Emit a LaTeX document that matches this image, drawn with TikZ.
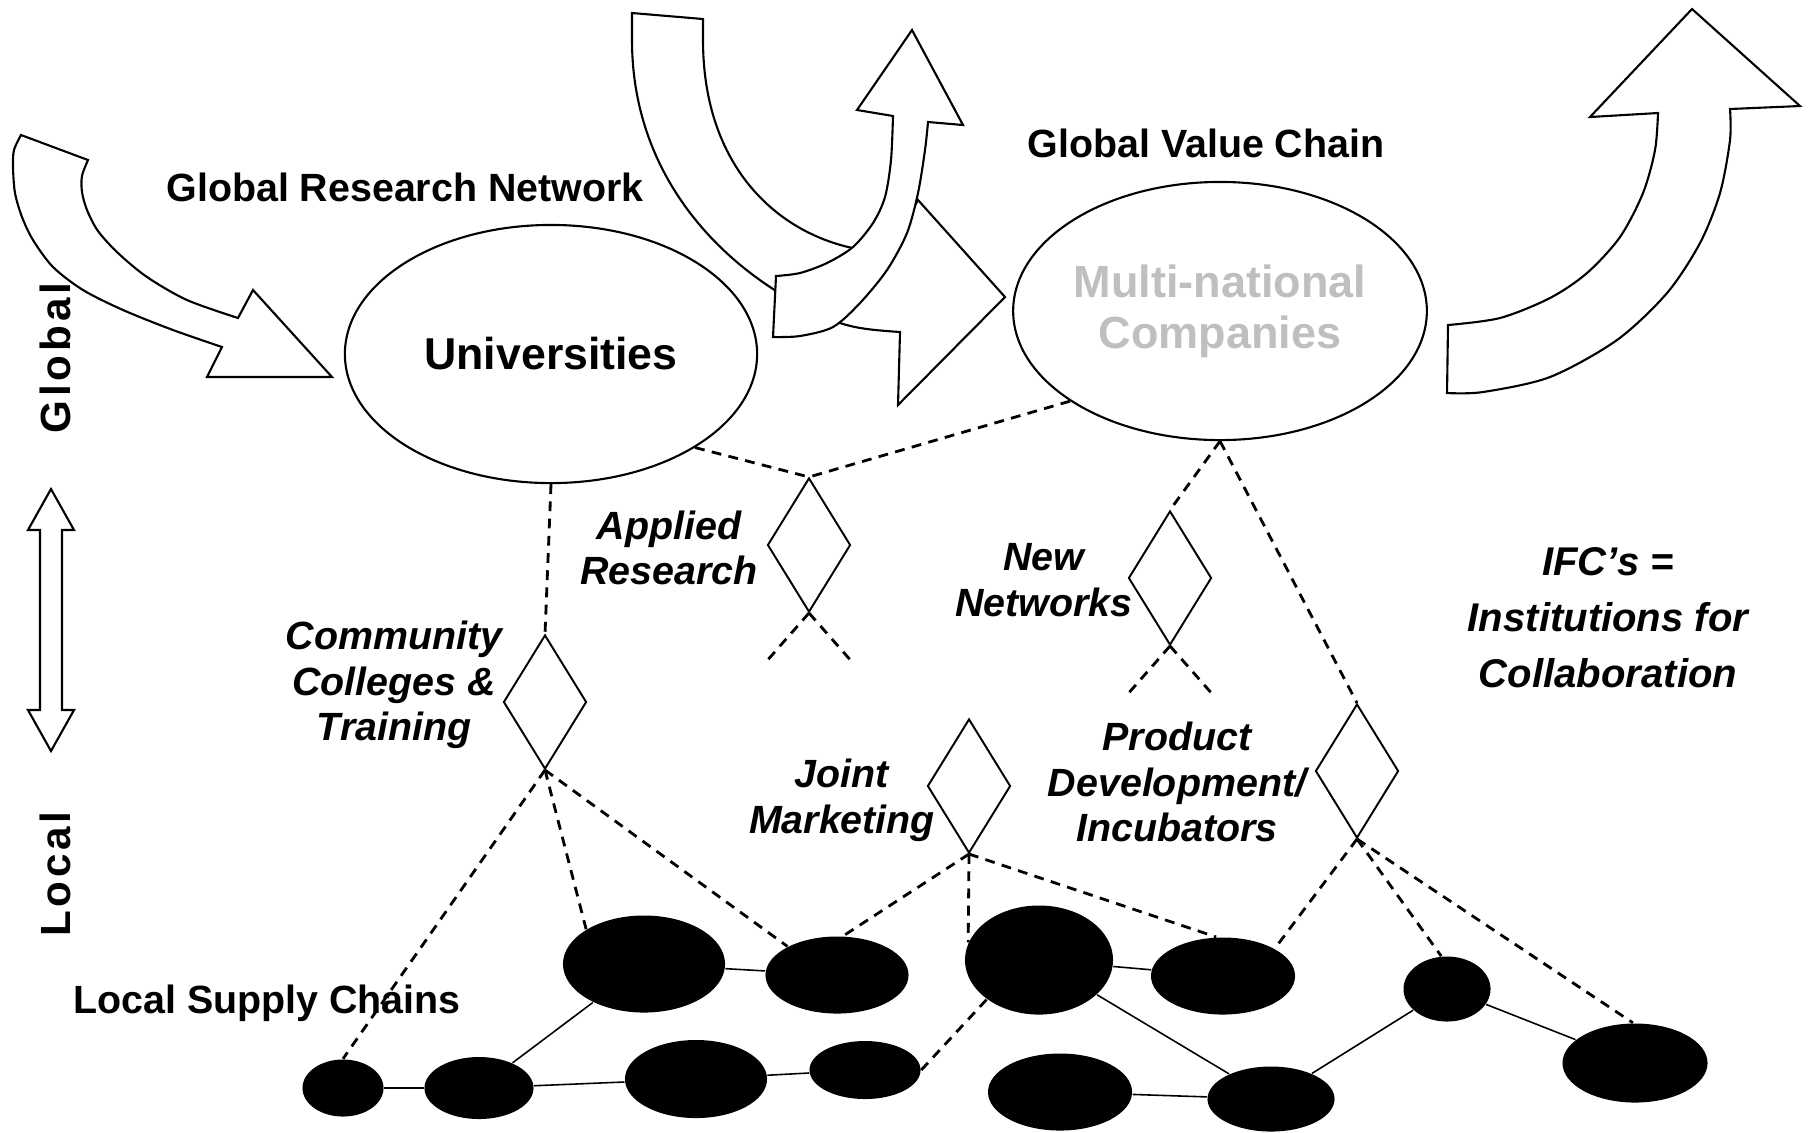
\documentclass[tikz,border=0pt]{standalone}
\usepackage{fontspec}
\setmainfont{Liberation Sans}
\usetikzlibrary{shapes.geometric,positioning}

\tikzset{
    hollow/.style={draw, fill=white, line width=0.6pt, line join=miter},
    hub/.style={draw, ellipse, line width=0.6pt, minimum width=4.12cm, minimum height=2.58cm, inner sep=0pt},
    ifc/.style={draw, diamond, line width=0.55pt, minimum width=0.83cm, minimum height=1.34cm, inner sep=0pt},
    firm/.style={ellipse, fill=black, inner sep=0pt},
    link/.style={line width=0.8pt, dash pattern=on 2.8pt off 2.1pt},
    tie/.style={line width=0.45pt},
    headtext/.style={font=\fontsize{11.2}{13}\selectfont\bfseries, inner sep=0pt},
    ifctext/.style={font=\fontsize{11.2}{13}\selectfont\bfseries\itshape, align=center, inner sep=0pt}
}

\begin{document}
\begin{tikzpicture}[x=0.01cm, y=-0.01cm]
        \useasboundingbox (0,0) rectangle (1810,1132);

        % Draw the big hollow arrows
        \draw[hollow] (21,135) -- (88,160)
            -- plot[smooth] coordinates {(88,160) (82,176) (82,192) (87,210) (98,231) (118,253) (147,277) (187,300) (238,318)}
            -- (253,290) -- (332,377) -- (207,377) -- (222,347)
            -- plot[smooth] coordinates {(222,347) (173,330) (123,310) (83,290) (53,267) (33,240) (22,217) (15,193) (13,167) (14,150) (21,135)}
            -- cycle;
        \draw[hollow] (632,13) -- (703,19) -- (703,40)
            .. controls (703,160) and (770,228) .. (848,247)
            -- (888,255) -- (918,200) -- (1005,297) -- (898,405) -- (900,332)
            .. controls (870,330) and (855,328) .. (840,323)
            .. controls (740,285) and (632,190) .. (632,40)
            -- cycle;
        \draw[hollow] (773,337) -- (776,276)
            -- plot[smooth] coordinates {(776,276) (800,273) (827,263) (853,247) (873,223) (885,197) (891,160) (893,116)}
            -- (857,110) -- (912,30) -- (963,125) -- (928,122)
            -- plot[smooth] coordinates {(928,122) (925,150) (918,193) (907,233) (887,270) (860,303) (833,327) (800,336) (773,337)}
            -- cycle;
        \draw[hollow] (1447,393) -- (1448,325)
            -- plot[smooth] coordinates {(1448,325) (1500,318) (1550,298) (1587,273) (1620,237) (1643,193) (1655,150) (1658,113)}
            -- (1590,117) -- (1692,9) -- (1800,106) -- (1730,109)
            -- plot[smooth] coordinates {(1730,109) (1730,140) (1720,193) (1700,243) (1667,293) (1617,340) (1550,377) (1483,392) (1447,393)}
            -- cycle;

        % Global - local double arrow
        \draw[hollow] (51,489) -- (74,530) -- (62,530) -- (62,710) -- (74,710) -- (51,751)
            -- (28,710) -- (40,710) -- (40,530) -- (28,530) -- cycle;
        \node[rotate=90, font=\fontsize{12}{14}\selectfont\bfseries\addfontfeature{LetterSpace=9}] (global) at (55,358) {Global};
        \node[rotate=90, font=\fontsize{12}{14}\selectfont\bfseries\addfontfeature{LetterSpace=9}] (local) at (55,874) {Local};

        % Titles
        \node[headtext] (grn) at (405,187) {Global Research Network};
        \node[headtext] (gvc) at (1206,143) {Global Value Chain};
        \node[headtext] (lsc) at (267,1003) {Local Supply Chains};

        % The two hubs
        \node[hub, font=\fontsize{12.7}{15}\selectfont\bfseries] (univ) at (551,354) {Universities};
        \node[hub, font=\fontsize{12.8}{14.5}\selectfont\bfseries, text=black!25, align=center] (mnc) at (1220,311) {Multi-national\\Companies};

        % The IFC diamonds and their labels
        \node[ifc] (research) at (809,545) {};
        \node[ifc] (training) at (545,702) {};
        \node[ifc] (networks) at (1170,578) {};
        \node[ifc] (marketing) at (969,786) {};
        \node[ifc] (incubator) at (1357,771) {};
        \node[ifctext] (researchlbl) at (669,548) {Applied\\Research};
        \node[ifctext] (traininglbl) at (394,685) {Community\\Colleges \&\\Training};
        \node[ifctext] (networkslbl) at (1044,580) {New\\Networks};
        \node[ifctext] (marketinglbl) at (842,800) {Joint\\Marketing};
        \node[ifctext] (incubatorlbl) at (1177,782) {Product\\Development/\\Incubators};
        \node[ifctext, font=\fontsize{11.4}{15.9}\selectfont\bfseries\itshape] (ifclbl) at (1608,618) {IFC’s =\\Institutions for\\Collaboration};

        % Firms of the local supply chains
        \node[firm, minimum width=1.62cm, minimum height=0.97cm] (a1) at (644,964) {};
        \node[firm, minimum width=1.43cm, minimum height=0.77cm] (a2) at (837,975) {};
        \node[firm, minimum width=1.48cm, minimum height=1.09cm] (a3) at (1039,960) {};
        \node[firm, minimum width=1.44cm, minimum height=0.77cm] (a4) at (1223,976) {};
        \node[firm, minimum width=0.87cm, minimum height=0.65cm] (a5) at (1447,989) {};
        \node[firm, minimum width=0.81cm, minimum height=0.57cm] (b1) at (343,1088) {};
        \node[firm, minimum width=1.09cm, minimum height=0.62cm] (b2) at (479,1088) {};
        \node[firm, minimum width=1.42cm, minimum height=0.78cm] (b3) at (696,1079) {};
        \node[firm, minimum width=1.11cm, minimum height=0.58cm] (b4) at (865,1070) {};
        \node[firm, minimum width=1.44cm, minimum height=0.77cm] (b5) at (1060,1092) {};
        \node[firm, minimum width=1.27cm, minimum height=0.65cm] (b6) at (1271,1099) {};
        \node[firm, minimum width=1.45cm, minimum height=0.79cm] (b7) at (1635,1063) {};

        % Supply chain ties
        \draw[tie] (b1) -- (b2);
        \draw[tie] (b2) -- (a1);
        \draw[tie] (b2) -- (b3);
        \draw[tie] (b3) -- (b4);
        \draw[tie] (a1) -- (a2);
        \draw[tie] (a3) -- (a4);
        \draw[tie] (a3) -- (b6);
        \draw[tie] (b5) -- (b6);
        \draw[tie] (b6) -- (a5);
        \draw[tie] (a5) -- (b7);

        % Dashed links between hubs, IFCs and firms
        \coordinate[below left=0.5cm and 0.44cm of research.south] (res1);
        \coordinate[below right=0.5cm and 0.44cm of research.south] (res2);
        \coordinate[below left=0.5cm and 0.44cm of networks.south] (net1);
        \coordinate[below right=0.5cm and 0.44cm of networks.south] (net2);
        \draw[link] (univ.south) -- (training.north);
        \draw[link] (univ.327) -- (research.north);
        \draw[link] (mnc.211) -- (research.north);
        \draw[link] (mnc.south) -- (networks.north);
        \draw[link] (mnc.south) -- (incubator.north);
        \draw[link] (research.south) -- (res1);
        \draw[link] (research.south) -- (res2);
        \draw[link] (networks.south) -- (net1);
        \draw[link] (networks.south) -- (net2);
        \draw[link] (training.south) -- (b1.north);
        \draw[link] (training.south) -- (a1.149);
        \draw[link] (training.south) -- (a2.150);
        \draw[link] (marketing.south) -- (a2.81);
        \draw[link] (marketing.south) -- (a3.166);
        \draw[link] (marketing.south) -- (a4.100);
        \draw[link] (b4.east) -- (a3.217);
        \draw[link] (incubator.south) -- (a4.28);
        \draw[link] (incubator.south) -- (a5.100);
        \draw[link] (incubator.south) -- (b7.93);
    \end{tikzpicture}
\end{document}
